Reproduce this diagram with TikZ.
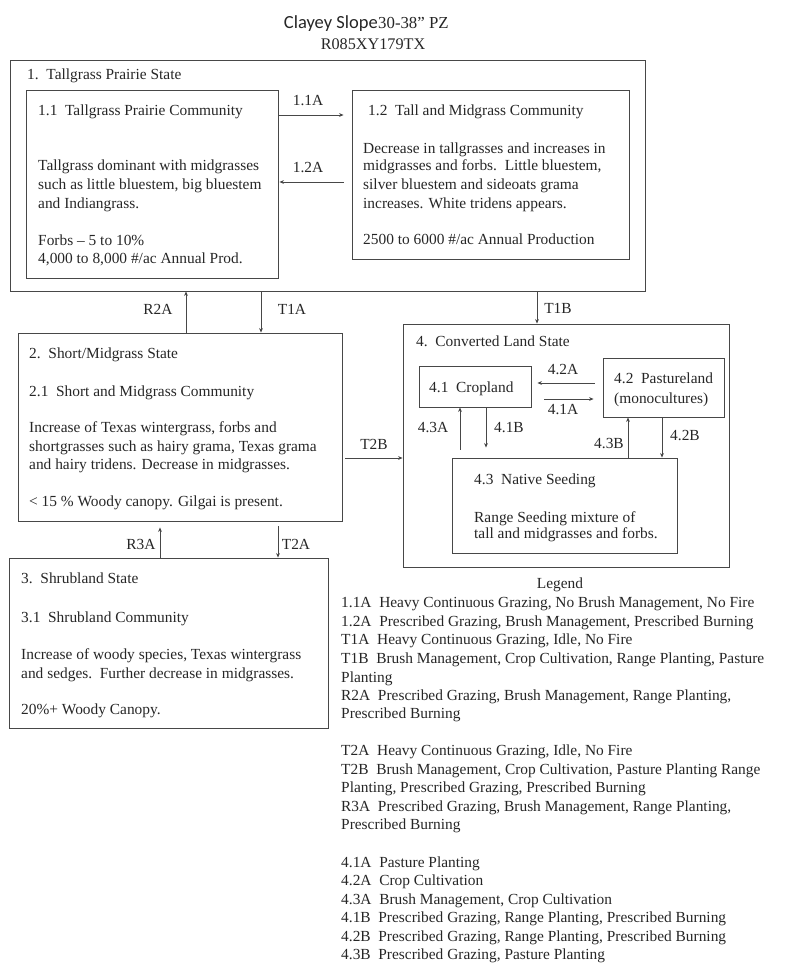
\documentclass[tikz,border=0pt]{standalone}
\usepackage{fontspec}
\setmainfont{Liberation Serif}
\newfontfamily\titlefont{Carlito}
\usetikzlibrary{arrows.meta}
\begin{document}
\begin{tikzpicture}[x=1pt,y=-1pt,
  box/.style={draw=black!72, line width=0.9pt, inner sep=0pt, fill=none},
  arr/.style={draw=black!72, line width=0.8pt, -{Stealth[length=4.5pt,width=3.8pt]}},
  txt/.style={anchor=base west, inner sep=0pt, font=\fontsize{15.4}{18}\selectfont, text=black!85},
  lbl/.style={anchor=base, inner sep=0pt, font=\fontsize{15.4}{18}\selectfont, text=black!85}]
\useasboundingbox (0,0) rectangle (800,977);
% title
\node[anchor=base east, inner sep=0pt, font=\titlefont\fontsize{18.5}{20}\selectfont, text=black!85] (t1) at (378,28) {Clayey Slope};
\node[txt, font=\fontsize{16.8}{18}\selectfont] (t2) at (378,28) {30-38” PZ};
\node[lbl, font=\fontsize{16.2}{18}\selectfont] (t3) at (373,49) {R085XY179TX};
% boxes
\node[box, minimum width=635, minimum height=231] (s1) at (327.5,175.5) {};
\node[box, minimum width=252, minimum height=188] (b11) at (152,184) {};
\node[box, minimum width=277, minimum height=169] (b12) at (490.5,174.5) {};
\node[box, minimum width=324, minimum height=188] (s2) at (180,427) {};
\node[box, minimum width=319, minimum height=170] (s3) at (168.5,643) {};
\node[box, minimum width=326, minimum height=243] (s4) at (566,445.5) {};
\node[box, minimum width=112, minimum height=41] (b41) at (475,386.5) {};
\node[box, minimum width=121, minimum height=59] (b42) at (663.5,387.5) {};
\node[box, minimum width=225, minimum height=95] (b43) at (564.5,505.5) {};
% state 1 text
\node[txt] (s1t) at (27,79) {1.~~Tallgrass Prairie State};
\node[txt] (b11a) at (38,115) {1.1~~Tallgrass Prairie Community};
\node[txt] (b11b) at (38,170) {Tallgrass dominant with midgrasses};
\node[txt] (b11c) at (38,189) {such as little bluestem, big bluestem};
\node[txt] (b11d) at (38,208) {and Indiangrass.};
\node[txt] (b11e) at (38,245) {Forbs – 5 to 10\%};
\node[txt] (b11f) at (38,263) {4,000 to 8,000 \#/ac Annual Prod.};
\node[txt] (b12a) at (368,115) {1.2~~Tall and Midgrass Community};
\node[txt] (b12b) at (363,153) {Decrease in tallgrasses and increases in};
\node[txt] (b12c) at (363,170) {midgrasses and forbs.~~Little bluestem,};
\node[txt] (b12d) at (363,189) {silver bluestem and sideoats grama};
\node[txt] (b12e) at (363,208) {increases. White tridens appears.};
\node[txt] (b12f) at (363,244) {2500 to 6000 \#/ac Annual Production};
% state 2 text
\node[txt] (s2a) at (29,358) {2.~~Short/Midgrass State};
\node[txt] (s2b) at (29,396) {2.1~~Short and Midgrass Community};
\node[txt] (s2c) at (29,432) {Increase of Texas wintergrass, forbs and};
\node[txt] (s2d) at (29,451) {shortgrasses such as hairy grama, Texas grama};
\node[txt] (s2e) at (29,469) {and hairy tridens. Decrease in midgrasses.};
\node[txt] (s2f) at (29,506) {< 15 \% Woody canopy. Gilgai is present.};
% state 3 text
\node[txt] (s3a) at (21,583) {3.~~Shrubland State};
\node[txt] (s3b) at (21,622) {3.1~~Shrubland Community};
\node[txt] (s3c) at (21,659) {Increase of woody species, Texas wintergrass};
\node[txt] (s3d) at (21,678) {and sedges.~~Further decrease in midgrasses.};
\node[txt] (s3e) at (21,714) {20\%+ Woody Canopy.};
% state 4 text
\node[txt] (s4a) at (416,346) {4.~~Converted Land State};
\node[txt] (b41a) at (429,392) {4.1~~Cropland};
\node[txt] (b42a) at (614,383) {4.2~~Pastureland};
\node[txt] (b42b) at (614,403) {(monocultures)};
\node[txt] (b43a) at (474,484) {4.3~~Native Seeding};
\node[txt] (b43b) at (474,522) {Range Seeding mixture of};
\node[txt] (b43c) at (474,538) {tall and midgrasses and forbs.};
% connectors
\draw[arr, shorten >=8pt] (b11.east |- 0,115) -- (b12.west |- 0,115);
\draw[arr, shorten <=8pt, shorten >=1pt] (b12.west |- 0,182) -- (b11.east |- 0,182);
\draw[arr] (s2.north -| 186,0) -- (s1.south -| 186,0);
\draw[arr] (s1.south -| 261,0) -- (s2.north -| 261,0);
\draw[arr] (s1.south -| 537,0) -- (s4.north -| 537,0);
\draw[arr, shorten <=3pt] (s2.east |- 0,458) -- (s4.west |- 0,458);
\draw[arr, shorten >=6pt] (s3.north -| 160,0) -- (s2.south -| 160,0);
\draw[arr, shorten <=5pt] (s2.south -| 278,0) -- (s3.north -| 278,0);
\draw[arr, shorten <=8pt, shorten >=6pt] (b42.west |- 0,383) -- (b41.east |- 0,383);
\draw[arr, shorten <=13pt, shorten >=9pt] (b41.east |- 0,399) -- (b42.west |- 0,399);
\draw[arr, shorten <=8pt] (b43.north -| 460,0) -- (b41.south -| 460,0);
\draw[arr, shorten >=10pt] (b41.south -| 486,0) -- (b43.north -| 486,0);
\draw[arr] (b43.north -| 628,0) -- (b42.south -| 628,0);
\draw[arr] (b42.south -| 662,0) -- (b43.north -| 662,0);
% connector labels
\node[lbl] (l11a) at (308,105) {1.1A};
\node[lbl] (l12a) at (308,172) {1.2A};
\node[lbl] (lr2a) at (158,314) {R2A};
\node[lbl] (lt1a) at (292,314) {T1A};
\node[lbl] (lt1b) at (558,313) {T1B};
\node[lbl] (lt2b) at (374,449) {T2B};
\node[lbl] (lr3a) at (141,549) {R3A};
\node[lbl] (lt2a) at (296,549) {T2A};
\node[lbl] (l42a) at (563,374) {4.2A};
\node[lbl] (l41a) at (563,414) {4.1A};
\node[lbl] (l43a) at (433,432) {4.3A};
\node[lbl] (l41b) at (509,432) {4.1B};
\node[lbl] (l43b) at (609,448) {4.3B};
\node[lbl] (l42b) at (685,440) {4.2B};
% legend
\node[lbl] (leg) at (560,588) {Legend};
\node[txt] (lg1) at (341,607) {1.1A~~Heavy Continuous Grazing, No Brush Management, No Fire};
\node[txt] (lg2) at (341,626) {1.2A~~Prescribed Grazing, Brush Management, Prescribed Burning};
\node[txt] (lg3) at (341,644) {T1A~~Heavy Continuous Grazing, Idle, No Fire};
\node[txt] (lg4) at (341,663) {T1B~~Brush Management, Crop Cultivation, Range Planting, Pasture};
\node[txt] (lg5) at (341,682) {Planting};
\node[txt] (lg6) at (341,700) {R2A~~Prescribed Grazing, Brush Management, Range Planting,};
\node[txt] (lg7) at (341,718) {Prescribed Burning};
\node[txt] (lg8) at (341,755) {T2A~~Heavy Continuous Grazing, Idle, No Fire};
\node[txt] (lg9) at (341,774) {T2B~~Brush Management, Crop Cultivation, Pasture Planting Range};
\node[txt] (lg10) at (341,792) {Planting, Prescribed Grazing, Prescribed Burning};
\node[txt] (lg11) at (341,811) {R3A~~Prescribed Grazing, Brush Management, Range Planting,};
\node[txt] (lg12) at (341,829) {Prescribed Burning};
\node[txt] (lg13) at (341,867) {4.1A~~Pasture Planting};
\node[txt] (lg14) at (341,885) {4.2A~~Crop Cultivation};
\node[txt] (lg15) at (341,904) {4.3A~~Brush Management, Crop Cultivation};
\node[txt] (lg16) at (341,922) {4.1B~~Prescribed Grazing, Range Planting, Prescribed Burning};
\node[txt] (lg17) at (341,941) {4.2B~~Prescribed Grazing, Range Planting, Prescribed Burning};
\node[txt] (lg18) at (341,959) {4.3B~~Prescribed Grazing, Pasture Planting};
\end{tikzpicture}
\end{document}
